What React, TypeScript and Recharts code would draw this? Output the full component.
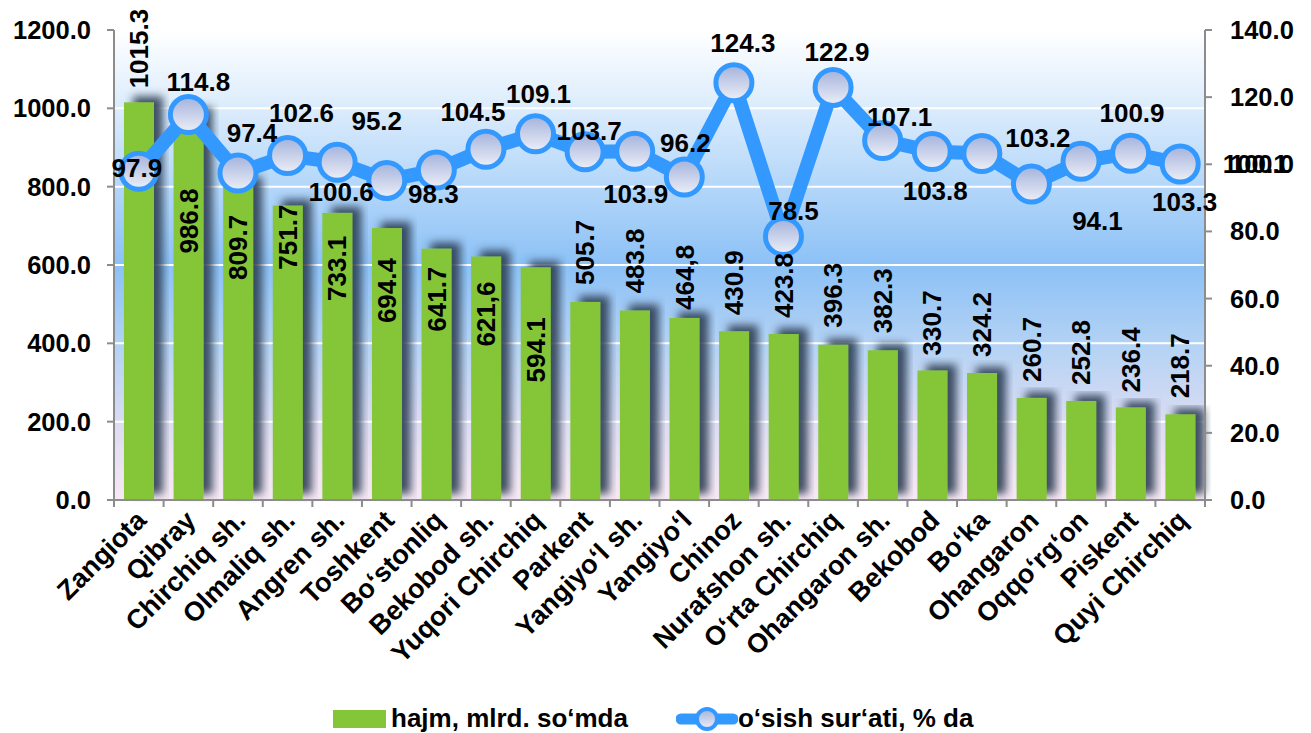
import React from 'react'
import {
  ComposedChart,
  Bar,
  Line,
  XAxis,
  YAxis,
  CartesianGrid,
  LabelList,
} from 'recharts'

// ── data ──────────────────────────────────────────────────────────────────────

const CATEGORIES = [
  'Zangiota', 'Qibray', 'Chirchiq sh.', 'Olmaliq sh.', 'Angren sh.', 'Toshkent',
  'Bo‘stonliq', 'Bekobod sh.', 'Yuqori Chirchiq', 'Parkent', 'Yangiyo‘l sh.',
  'Yangiyo‘l', 'Chinoz', 'Nurafshon sh.', 'O‘rta Chirchiq', 'Ohangaron sh.',
  'Bekobod', 'Bo‘ka', 'Ohangaron', 'Oqqo‘rg‘on', 'Piskent', 'Quyi Chirchiq',
]

// hajm, mlrd. so‘mda
const VOLUME = [
  1015.3, 986.8, 809.7, 751.7, 733.1, 694.4, 641.7, 621.6, 594.1, 505.7, 483.8,
  464.8, 430.9, 423.8, 396.3, 382.3, 330.7, 324.2, 260.7, 252.8, 236.4, 218.7,
]

// o‘sish sur‘ati, % da
const GROWTH = [
  97.9, 114.8, 97.4, 102.6, 100.6, 95.2, 98.3, 104.5, 109.1, 103.7, 103.9,
  96.2, 124.3, 78.5, 122.9, 107.1, 103.8, 103.2, 94.1, 100.9, 103.3, 100.1,
]

const LEFT_TICKS = [0, 200, 400, 600, 800, 1000, 1200]
const RIGHT_TICKS = [0, 20, 40, 60, 80, 100, 120, 140]

// the source writes a few values with a decimal comma
const COMMA_DECIMAL = new Set(['Bekobod sh.', 'Yangiyo‘l'])

// ── label placement (hand-placed in the original) ─────────────────────────────

// inside: distance of text top below bar top; outside: gap above bar top
const BAR_LABEL_PLACE: { inside: boolean; off: number }[] = [
  { inside: false, off: 14 }, { inside: true, off: 75 }, { inside: true, off: 32 },
  { inside: true, off: -1 }, { inside: true, off: 23 }, { inside: true, off: 30 },
  { inside: true, off: 18 }, { inside: true, off: 25 }, { inside: true, off: 50 },
  { inside: false, off: 17 }, { inside: false, off: 17 }, { inside: false, off: 8 },
  { inside: false, off: 16 }, { inside: false, off: 16 }, { inside: false, off: 17 },
  { inside: false, off: 17 }, { inside: false, off: 15 }, { inside: false, off: 16 },
  { inside: false, off: 16 }, { inside: false, off: 16 }, { inside: false, off: 15 },
  { inside: false, off: 16 },
]

// label centre relative to the marker centre
const LINE_LABEL_OFFSET: [number, number][] = [
  [-2, -3], [10, -33], [14, -40], [14, -43], [4, 30], [-10, -59], [-3, 24],
  [-13, -37], [3, -40], [4, -21], [1, 43], [1, -34], [9, -40], [10, -25],
  [4, -35], [17, -23], [3, 39], [56, -16], [66, 37], [51, -48], [54, 49], [75, 0],
]

const data = CATEGORIES.map((name, i) => ({
  name,
  volume: VOLUME[i],
  growth: GROWTH[i],
}))

const FONT = '"Liberation Sans", Arial, sans-serif'
const FS = 26
const AXIS = '#8c8c8c'
const GREEN = '#85c638'
const BLUE = '#3399ff'
const X_TICK = 7

// ── custom renderers ──────────────────────────────────────────────────────────

const LeftTick = ({ x, y, payload }: any) => (
  <text x={x} y={y + 9} textAnchor="end" fontFamily={FONT} fontSize={25.5} fontWeight="bold" fill="#000">
    {payload.value.toFixed(1)}
  </text>
)

const RightTick = ({ x, y, payload }: any) => (
  <text x={x} y={y + 9} textAnchor="start" fontFamily={FONT} fontSize={25.5} fontWeight="bold" fill="#000">
    {payload.value.toFixed(1)}
  </text>
)

// category label plus the tick marks on the band edges (Excel style)
const CategoryTick = ({ x, y, payload, index }: any) => {
  const half = payload.offset ?? 0
  const axisY = y - X_TICK
  return (
    <g>
      <line x1={x - half} x2={x - half} y1={axisY} y2={axisY + X_TICK} stroke={AXIS} strokeWidth={2} />
      {index === CATEGORIES.length - 1 && (
        <line x1={x + half} x2={x + half} y1={axisY} y2={axisY + X_TICK} stroke={AXIS} strokeWidth={2} />
      )}
      <text
        transform={`translate(${x + 9},${y + 15}) rotate(-45)`}
        textAnchor="end"
        fontFamily={FONT}
        fontSize={27}
        fontWeight="bold"
        fill="#000"
      >
        {payload.value}
      </text>
    </g>
  )
}

const ShadowBar = (props: any) => {
  const { x, y, width, height } = props
  if (!height || height <= 0) return null
  return <rect x={x} y={y} width={width} height={height} fill={GREEN} filter="url(#barShadow)" />
}

const BarValueLabel = (props: any) => {
  const { x, y, width, index, value } = props
  const place = BAR_LABEL_PLACE[index]
  const cx = x + width / 2 + 9
  let text = Number(value).toFixed(1)
  if (COMMA_DECIMAL.has(CATEGORIES[index])) text = text.replace('.', ',')
  const ty = place.inside ? y + place.off : y - place.off
  return (
    <text
      transform={`translate(${cx},${ty}) rotate(-90)`}
      textAnchor={place.inside ? 'end' : 'start'}
      fontFamily={FONT}
      fontSize={FS}
      fontWeight="bold"
      fill="#000"
    >
      {text}
    </text>
  )
}

const GrowthLabel = (props: any) => {
  const { x, y, index, value } = props
  const [dx, dy] = LINE_LABEL_OFFSET[index]
  return (
    <text x={x + dx} y={y + dy + 9} textAnchor="middle" fontFamily={FONT} fontSize={FS} fontWeight="bold" fill="#000">
      {Number(value).toFixed(1)}
    </text>
  )
}

const GrowthDot = (props: any) => {
  const { cx, cy, index } = props
  return <circle key={index} cx={cx} cy={cy} r={18} fill="url(#dotFill)" stroke={BLUE} strokeWidth={5} />
}

// ─────────────────────────────────────────────────────────────────────────────

export default function App() {
  return (
    <div style={{ position: 'absolute', left: 0, top: 0, width: 1311, height: 733, background: '#fff', fontFamily: FONT }}>
      <ComposedChart
        width={1311}
        height={733}
        data={data}
        margin={{ top: 30, right: 6, left: 14, bottom: 63 }}
      >
        <defs>
          <linearGradient id="plotBg" x1="0" y1="0" x2="0" y2="1">
            <stop offset="0%" stopColor="#ffffff" />
            <stop offset="18%" stopColor="#d8eafc" />
            <stop offset="50%" stopColor="#8cc1f6" />
            <stop offset="68%" stopColor="#b6d3f4" />
            <stop offset="84%" stopColor="#dcdcf2" />
            <stop offset="100%" stopColor="#f8e8f4" />
          </linearGradient>
          <linearGradient id="dotFill" x1="0" y1="0" x2="0" y2="1">
            <stop offset="0%" stopColor="#a3b2dc" />
            <stop offset="100%" stopColor="#eef0f8" />
          </linearGradient>
          <filter id="barShadow" x="-30%" y="-10%" width="180%" height="120%">
            <feDropShadow dx={9} dy={-6} stdDeviation={4.5} floodColor="#2f3d52" floodOpacity={0.9} />
          </filter>
        </defs>

        <CartesianGrid vertical={false} stroke="#ffffff" strokeWidth={2} fill="url(#plotBg)" yAxisId="left" />

        <XAxis
          dataKey="name"
          height={170}
          interval={0}
          tickSize={X_TICK}
          tickMargin={0}
          axisLine={{ stroke: AXIS, strokeWidth: 2 }}
          tickLine={false}
          tick={<CategoryTick />}
        />
        <YAxis
          yAxisId="left"
          orientation="left"
          width={100}
          domain={[0, 1200]}
          ticks={LEFT_TICKS}
          tickSize={7}
          tickMargin={16}
          axisLine={{ stroke: AXIS, strokeWidth: 2 }}
          tickLine={{ stroke: AXIS, strokeWidth: 2 }}
          tick={<LeftTick />}
        />
        <YAxis
          yAxisId="right"
          orientation="right"
          width={100}
          domain={[0, 140]}
          ticks={RIGHT_TICKS}
          tickSize={7}
          tickMargin={18}
          axisLine={{ stroke: AXIS, strokeWidth: 2 }}
          tickLine={{ stroke: AXIS, strokeWidth: 2 }}
          tick={<RightTick />}
        />

        <Bar
          yAxisId="left"
          dataKey="volume"
          barSize={30}
          shape={<ShadowBar />}
          isAnimationActive={false}
        >
          <LabelList dataKey="volume" content={<BarValueLabel />} />
        </Bar>
        <Line
          yAxisId="right"
          type="linear"
          dataKey="growth"
          stroke={BLUE}
          strokeWidth={14}
          dot={<GrowthDot />}
          activeDot={false}
          isAnimationActive={false}
        >
          <LabelList dataKey="growth" content={<GrowthLabel />} />
        </Line>
      </ComposedChart>

      <div style={{ position: 'absolute', left: 333, top: 703, display: 'flex', alignItems: 'center', fontSize: 26, fontWeight: 'bold', color: '#000', whiteSpace: 'nowrap' }}>
        <span style={{ display: 'inline-block', width: 53, height: 18, background: GREEN, marginRight: 5 }} />
        <span>hajm, mlrd. so‘mda</span>
        <svg width={62} height={30} style={{ marginLeft: 48 }}>
          <line x1={5} y1={15} x2={57} y2={15} stroke={BLUE} strokeWidth={11} strokeLinecap="round" />
          <circle cx={31} cy={15} r={10} fill="url(#dotFill)" stroke={BLUE} strokeWidth={4} />
        </svg>
        <span>o‘sish sur‘ati, % da</span>
      </div>
    </div>
  )
}
